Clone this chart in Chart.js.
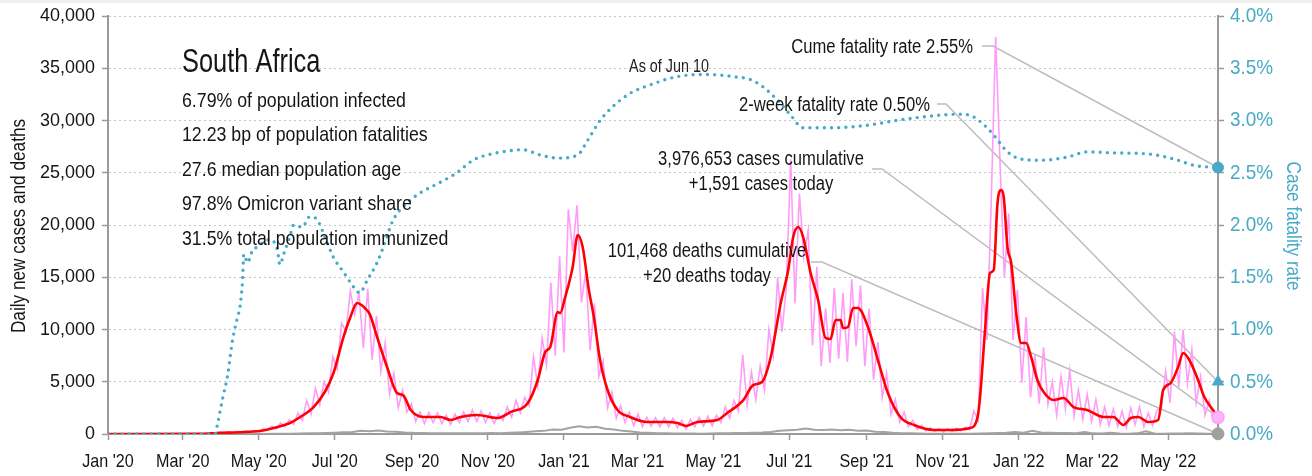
<!DOCTYPE html>
<html>
<head>
<meta charset="utf-8">
<title>South Africa COVID-19</title>
<script src="https://cdn.jsdelivr.net/npm/chart.js@4.4.1/dist/chart.umd.min.js"></script>
<style>
  html, body { margin: 0; padding: 0; background: #ffffff; }
  #wrap { position: relative; width: 1312px; height: 476px; overflow: hidden; }
  #band { position: absolute; left: 0; top: 0; width: 1312px; height: 3px; background: #efefef; }
  canvas { display: block; }
</style>
</head>
<body>
<div id="wrap">
  <canvas id="chart" width="1312" height="476" style="width:1312px;height:476px"></canvas>
  <div id="band"></div>
</div>
<script>
// ---- Data (x values are days since Jan 1 2020) ----
const lastDay = 891;            // Jun 10 2022
const casesToday = 1591;
const deathsToday = 20;
const casesCumulative = 3976653;
const deathsCumulative = 101468;
const cfrCume = 2.55;
const cfr2wk = 0.50;

const statLines = [
  '6.79% of population infected',
  '12.23 bp of population fatalities',
  '27.6 median population age',
  '97.8% Omicron variant share',
  '31.5% total population immunized'
];

const tickDays   = [0, 60, 121, 182, 244, 305, 366, 425, 486, 547, 609, 670, 731, 790, 851];
const tickLabels = ["Jan '20", "Mar '20", "May '20", "Jul '20", "Sep '20", "Nov '20", "Jan '21",
                    "Mar '21", "May '21", "Jul '21", "Sep '21", "Nov '21", "Jan '22", "Mar '22", "May '22"];
const caseTicks = [0, 5000, 10000, 15000, 20000, 25000, 30000, 35000, 40000];
const rateTicks = [0, 0.5, 1.0, 1.5, 2.0, 2.5, 3.0, 3.5, 4.0];

// daily new cases, sampled every 3.5 days from day 65
const dailyStart = 65;
const dailyStep = 3.5;
const dailyCases = [
  0, 10, 5, 20, 30, 120, 80, 200, 80, 180,
  120, 250, 140, 300, 180, 350, 220, 500, 380, 750,
  500, 1050, 700, 1350, 900, 2000, 1300, 3200, 1900, 4400,
  2800, 5000, 4000, 7400, 6200, 10600, 9800, 13700, 11500, 13400,
  8200, 13900, 7100, 11300, 6000, 8700, 3800, 5800, 2500, 4200,
  2100, 2900, 1200, 2100, 1000, 2050, 1100, 2000, 1000, 1800,
  900, 1900, 1100, 2100, 1200, 2300, 1200, 2200, 1100, 2000,
  1000, 1900, 1300, 2600, 1600, 3200, 2000, 3500, 2700, 7400,
  4600, 9200, 6600, 14500, 7500, 17000, 7800, 21500, 17500, 21900,
  12600, 15500, 8000, 12500, 5500, 7000, 2500, 4000, 1500, 2700,
  1100, 2100, 800, 1900, 700, 1600, 750, 1550, 700, 1550,
  700, 1500, 600, 1300, 450, 1400, 700, 1600, 750, 1700,
  800, 1800, 1100, 2600, 1500, 3200, 2200, 7600, 2800, 5900,
  3300, 6500, 4200, 10000, 7500, 15000, 9800, 14000, 26300, 12500,
  23000, 17000, 19500, 8500, 16000, 6500, 12000, 6800, 14000, 7200,
  13500, 6900, 14800, 8400, 14200, 6500, 12000, 5200, 8800, 3500,
  5800, 1900, 3300, 1100, 2100, 700, 1300, 450, 850, 280,
  600, 230, 500, 200, 500, 220, 550, 300, 650, 400,
  2200, 1300, 14000, 9000, 22400, 38000, 26000, 15000, 21100, 9000,
  13800, 4900, 11200, 3500, 7600, 2900, 8300, 2800, 5000, 1800,
  5500, 2400, 6100, 1700, 4200, 1400, 3800, 1200, 3300, 900,
  2600, 800, 2400, 700, 2200, 600, 2500, 900, 2600, 700,
  2000, 800, 2300, 2500, 6000, 3000, 9800, 4500, 10000, 4800,
  8100, 3000, 5500, 1800, 3200, 1200, casesToday
];

// 7-day average of new cases
const avgDays = [0, 74, 88, 106, 122, 134, 146, 154, 165, 174, 181, 189, 194, 200, 204, 206, 210, 216, 224, 232,
  237, 243, 253, 267, 275, 283, 296, 313, 323, 337, 345, 351, 355, 361, 363, 367, 373, 377, 381, 386,
  390, 395, 401, 409, 419, 433, 449, 457, 464, 473, 489, 497, 510, 518, 525, 532, 540, 546, 550, 554,
  558, 564, 570, 576, 580, 584, 588, 590, 594, 598, 602, 610, 618, 626, 636, 647, 663, 676, 692, 698,
  700, 704, 708, 711, 714, 717, 719, 722, 725, 729, 733, 737, 741, 746, 751, 759, 767, 775, 786, 799,
  807, 815, 821, 827, 835, 843, 847, 853, 859, 863, 868, 875, 880, 887, 891];
const avgCases = [0, 10, 100, 170, 290, 600, 1050, 1600, 2580, 4020, 5840, 9280, 11000, 12530, 12300, 12060, 11500, 9280, 6410, 3920,
  3700, 2300, 1630, 1630, 1340, 1630, 1820, 1530, 2100, 2970, 5170, 7850, 8330, 11670, 11580, 13110, 15980, 19040, 17890, 13780,
  11200, 7080, 4210, 2300, 1630, 1150, 1150, 1050, 770, 1150, 1340, 2010, 3250, 4690, 4980, 7370, 12530, 15690, 18850, 19810,
  18850, 15400, 12820, 9190, 9090, 10910, 10910, 10140, 10240, 12060, 12060, 10240, 7080, 3920, 1630, 860, 380, 380, 570, 1630,
  3540, 9950, 15400, 15690, 22100, 23350, 22680, 17890, 16360, 11580, 8710, 8710, 7370, 5170, 4020, 3250, 3440, 2580, 2300, 1630,
  1630, 860, 1530, 1630, 1150, 1340, 4210, 4880, 6410, 7750, 7080, 5170, 3540, 2300, 1700];

// daily deaths, sampled weekly from day 63
const deathStart = 63;
const deathStep = 7;
const dailyDeaths = [
  0, 0, 1, 3, 5, 8, 10, 12, 12, 10,
  15, 20, 30, 40, 60, 70, 90, 120, 160, 190,
  300, 260, 330, 250, 220, 150, 110, 90, 70, 80,
  60, 70, 60, 80, 60, 90, 80, 110, 150, 200,
  260, 300, 420, 400, 600, 750, 620, 700, 500, 420,
  300, 230, 150, 110, 80, 60, 50, 40, 40, 30,
  40, 60, 70, 90, 100, 120, 150, 200, 300, 350,
  400, 520, 400, 380, 430, 360, 400, 300, 330, 220,
  180, 120, 80, 60, 40, 30, 30, 20, 20, 20,
  30, 40, 60, 90, 120, 180, 130, 300, 140, 120,
  100, 90, 80, 200, 60, 50, 120, 40, 30, 60,
  250, 40, 30, 40, 50, 60, 40, 30, 25
];

// case fatality rate (%)
const cfrDays = [0, 86, 88, 92, 96, 100, 104, 106, 108, 109, 112, 116, 120, 125, 130, 136, 138, 141, 146, 149,
  156, 162, 168, 173, 181, 189, 197, 202, 208, 216, 221, 229, 240, 251, 267, 280, 293, 312, 333, 347,
  361, 377, 385, 395, 405, 419, 435, 457, 481, 502, 516, 526, 537, 548, 558, 580, 606, 644, 684, 692,
  703, 711, 722, 733, 749, 770, 786, 807, 835, 856, 872, 891];
const cfrRate = [0, 0, 0.10, 0.34, 0.56, 0.90, 1.12, 1.22, 1.47, 1.72, 1.64, 1.76, 1.79, 1.84, 1.86, 1.76, 1.62, 1.72, 1.89, 2.00,
  1.98, 2.08, 2.05, 1.92, 1.69, 1.55, 1.41, 1.35, 1.47, 1.64, 1.79, 2.05, 2.21, 2.31, 2.41, 2.50, 2.62, 2.69, 2.72, 2.67,
  2.64, 2.67, 2.81, 3.00, 3.13, 3.26, 3.34, 3.42, 3.44, 3.42, 3.39, 3.32, 3.20, 3.05, 2.93, 2.93, 2.95, 3.02, 3.06, 3.05,
  2.96, 2.86, 2.70, 2.63, 2.62, 2.65, 2.70, 2.69, 2.68, 2.63, 2.57, cfrCume];

// ---- Styling ----
const FONT = "'Liberation Sans', Arimo, Arial, sans-serif";
const TEAL = '#47aac6';
const PINK = '#ff9cf8';
const AXIS = '#9a9a9a';
const INK = '#151515';
const fmt = n => n.toLocaleString('en-US');

const pinkPts = [{x: 0, y: 0}].concat(dailyCases.map((v, i) => ({x: dailyStart + i * dailyStep, y: v})));
const deathPts = [{x: 0, y: 0}].concat(dailyDeaths.map((v, i) => ({x: deathStart + i * deathStep, y: v})));
deathPts.push({x: lastDay, y: deathsToday});
const avgPts = avgDays.map((d, i) => ({x: d, y: avgCases[i]}));
const cfrPts = cfrDays.map((d, i) => ({x: d, y: cfrRate[i]}));

// condensed text: regular face squeezed horizontally
function say(ctx, str, x, y, o) {
  ctx.save();
  ctx.font = `${o.size}px ${FONT}`;
  ctx.fillStyle = o.color || INK;
  ctx.textAlign = o.align || 'left';
  ctx.textBaseline = o.baseline || 'alphabetic';
  ctx.translate(x, y);
  if (o.rot) ctx.rotate(o.rot);
  ctx.scale(o.sx || 1, 1);
  ctx.fillText(str, 0, 0);
  ctx.restore();
}

// annotation text blocks with leader lines to the latest values
const notes = [
  {lines: [`Cume fatality rate ${cfrCume.toFixed(2)}%`], x: 973, y: [53], align: 'right',
   lead: [[982, 46], [993, 46]], target: c => [c.scales.x.getPixelForValue(lastDay), c.scales.y1.getPixelForValue(cfrCume)]},
  {lines: [`2-week fatality rate ${cfr2wk.toFixed(2)}%`], x: 930, y: [111], align: 'right',
   lead: [[937, 104], [946, 104]], target: c => [c.scales.x.getPixelForValue(lastDay), c.scales.y1.getPixelForValue(cfr2wk)]},
  {lines: [`${fmt(casesCumulative)} cases cumulative`, `+${fmt(casesToday)} cases today`], x: 761, y: [165, 190], align: 'center',
   lead: [[872, 169], [882, 169]], target: c => [c.scales.x.getPixelForValue(lastDay), c.scales.y.getPixelForValue(casesToday)]},
  {lines: [`${fmt(deathsCumulative)} deaths cumulative`, `+${fmt(deathsToday)} deaths today`], x: 707, y: [257, 282], align: 'center',
   lead: [[811, 262], [822, 262]], target: c => [c.scales.x.getPixelForValue(lastDay), c.scales.y.getPixelForValue(deathsToday)]}
];

const textPlugin = {
  id: 'countryText',
  beforeDatasetsDraw(chart) {
    const ctx = chart.ctx;
    ctx.save();
    ctx.strokeStyle = '#bdbdbd';
    ctx.lineWidth = 1.5;
    notes.forEach(n => {
      const [tx, ty] = n.target(chart);
      ctx.beginPath();
      ctx.moveTo(n.lead[0][0], n.lead[0][1]);
      ctx.lineTo(n.lead[1][0], n.lead[1][1]);
      ctx.lineTo(tx, ty);
      ctx.stroke();
    });
    ctx.restore();
  },
  afterDatasetsDraw(chart) {
    const ctx = chart.ctx;
    const {x: xs, y: ys, y1: rs} = chart.scales;

    // tick labels
    caseTicks.forEach(v => say(ctx, fmt(v), 95, ys.getPixelForValue(v), {size: 18.5, sx: 0.97, align: 'right', baseline: 'middle'}));
    rateTicks.forEach(v => say(ctx, v.toFixed(1) + '%', 1230, rs.getPixelForValue(v), {size: 21, sx: 0.9, baseline: 'middle', color: TEAL}));
    tickDays.forEach((d, i) => say(ctx, tickLabels[i], xs.getPixelForValue(d), 462, {size: 19, sx: 0.85, align: 'center', baseline: 'middle'}));

    // axis titles
    say(ctx, 'Daily new cases and deaths', 19, 226, {size: 20, sx: 0.86, align: 'center', baseline: 'middle', rot: -Math.PI / 2});
    say(ctx, 'Case fatality rate', 1293, 226, {size: 20, sx: 0.86, align: 'center', baseline: 'middle', rot: Math.PI / 2, color: TEAL});

    // country block
    say(ctx, 'South Africa', 182, 72, {size: 33, sx: 0.77});
    statLines.forEach((s, i) => say(ctx, s, 182, 107 + i * 34.4, {size: 21, sx: 0.845}));
    say(ctx, 'As of Jun 10', 669, 72, {size: 17.5, sx: 0.82, align: 'center', color: '#222'});

    notes.forEach(n => n.lines.forEach((l, i) => say(ctx, l, n.x, n.y[i], {size: 20, sx: 0.83, align: n.align})));
  }
};

new Chart(document.getElementById('chart'), {
  type: 'line',
  data: {
    datasets: [
      {label: 'Cume CFR', data: [{x: lastDay, y: cfrCume}], yAxisID: 'y1', showLine: false, clip: false, order: 0,
       pointRadius: 5.5, pointBackgroundColor: TEAL, pointBorderColor: TEAL, pointStyle: 'circle'},
      {label: '2-week CFR', data: [{x: lastDay, y: cfr2wk}], yAxisID: 'y1', showLine: false, clip: false, order: 0,
       pointRadius: 6.5, pointBackgroundColor: TEAL, pointBorderColor: TEAL, pointStyle: 'triangle'},
      {label: 'Cases today', data: [{x: lastDay, y: casesToday}], yAxisID: 'y', showLine: false, clip: false, order: 0,
       pointRadius: 6, pointBackgroundColor: '#ffb3fb', pointBorderColor: PINK, pointBorderWidth: 1.5},
      {label: 'Deaths today', data: [{x: lastDay, y: deathsToday}], yAxisID: 'y', showLine: false, clip: false, order: 0,
       pointRadius: 6, pointBackgroundColor: '#a0a0a0', pointBorderColor: '#a0a0a0'},
      {label: 'Case fatality rate', data: cfrPts, yAxisID: 'y1', order: 1,
       borderColor: TEAL, borderWidth: 3.4, borderDash: [0, 7.2], borderCapStyle: 'round',
       cubicInterpolationMode: 'monotone', pointRadius: 0, fill: false},
      {label: '7-day average', data: avgPts, yAxisID: 'y', order: 2,
       borderColor: '#ff0000', borderWidth: 2.6, cubicInterpolationMode: 'monotone', pointRadius: 0, fill: false},
      {label: 'Daily deaths', data: deathPts, yAxisID: 'y', order: 3,
       borderColor: '#a3a3a3', borderWidth: 2, tension: 0, pointRadius: 0, fill: false},
      {label: 'Daily cases', data: pinkPts, yAxisID: 'y', order: 4,
       borderColor: PINK, borderWidth: 1.6, tension: 0, pointRadius: 0, fill: false}
    ]
  },
  options: {
    responsive: false,
    animation: false,
    devicePixelRatio: 1,
    parsing: false,
    normalized: true,
    layout: {padding: {top: 16, left: 0, right: 0, bottom: 0}},
    plugins: {legend: {display: false}, tooltip: {enabled: false}, title: {display: false}},
    scales: {
      x: {
        type: 'linear', position: 'bottom', min: 0, max: lastDay,
        afterBuildTicks: s => { s.ticks = tickDays.map(v => ({value: v})); },
        afterFit: s => { s.height = 42; },
        ticks: {display: false, autoSkip: false},
        grid: {drawOnChartArea: false, drawTicks: true, tickLength: 6, tickColor: AXIS, tickWidth: 1.5},
        border: {color: AXIS, width: 2}
      },
      y: {
        type: 'linear', position: 'left', min: 0, max: 40000,
        afterBuildTicks: s => { s.ticks = caseTicks.map(v => ({value: v})); },
        afterFit: s => { s.width = 108; },
        ticks: {display: false},
        grid: {color: '#c6c6c6', lineWidth: 1, drawTicks: true, tickLength: 6, tickColor: AXIS, tickWidth: 1.5},
        border: {color: AXIS, width: 2, dash: [2, 3]}
      },
      y1: {
        type: 'linear', position: 'right', min: 0, max: 4,
        afterBuildTicks: s => { s.ticks = rateTicks.map(v => ({value: v})); },
        afterFit: s => { s.width = 94; },
        ticks: {display: false},
        grid: {drawOnChartArea: false, drawTicks: true, tickLength: 6, tickColor: AXIS, tickWidth: 1.5},
        border: {color: AXIS, width: 2}
      }
    }
  },
  plugins: [textPlugin]
});
</script>
</body>
</html>
